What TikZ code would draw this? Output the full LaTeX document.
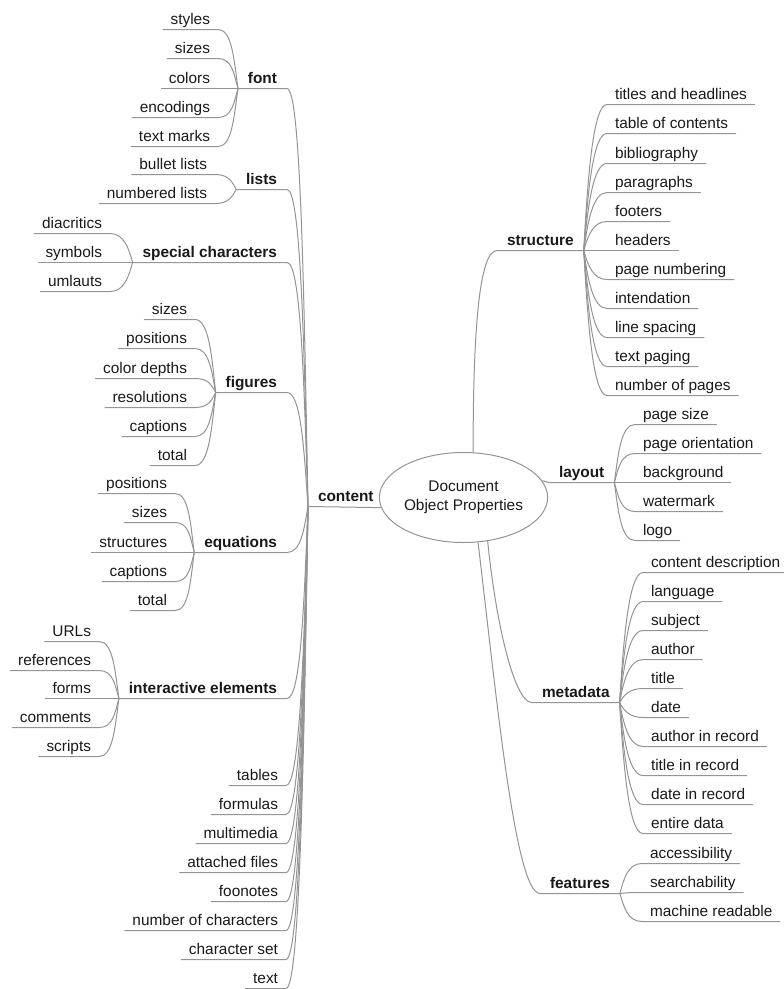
\documentclass[tikz,border=0pt]{standalone}
\usepackage{fontspec}
\setmainfont{Liberation Sans}
\usetikzlibrary{shapes.geometric,calc}

\begin{document}
\begin{tikzpicture}[x=1pt,y=-1pt,
  leaf/.style={font=\fontsize{15.4}{19}\selectfont, text=black!90, inner xsep=8pt, inner ysep=0pt,
               outer sep=0pt, text height=11pt, text depth=5pt},
  hub/.style={leaf, font=\fontsize{15.4}{19}\selectfont\bfseries, inner xsep=10pt},
  link/.style={draw=black!42, line width=1pt},
  lbranch/.style={to path={.. controls ($(\tikztostart)+(14,0)$)
                   and ($(\tikztotarget)!.5!(\tikztotarget|-\tikztostart)+(-4,0)$) .. (\tikztotarget)}},
  rbranch/.style={to path={.. controls ($(\tikztostart)!.5!(\tikztostart|-\tikztotarget)+(4,0)$)
                   and ($(\tikztotarget)+(-14,0)$) .. (\tikztotarget)}}]
\useasboundingbox (0,-0.5) rectangle (784,988.5);

\node[ellipse, draw=black!42, line width=1pt, minimum width=147pt, minimum height=90pt, inner sep=0pt,
      align=center, font=\fontsize{15.4}{19}\selectfont, text=black!90] (doc) at (463.5,497) {Document\\Object Properties};

% left side
\node[hub, anchor=south west] (content) at (308,506) {content};

\node[hub, anchor=south east] (font) at (287,88) {font};
\node[leaf, anchor=south east] (styles) at (218,29) {styles};
\node[leaf, anchor=south east] (fontsizes) at (218,58) {sizes};
\node[leaf, anchor=south east] (colors) at (218,88) {colors};
\node[leaf, anchor=south east] (encodings) at (218,117) {encodings};
\node[leaf, anchor=south east] (textmarks) at (218,146) {text marks};

\node[hub, anchor=south east] (lists) at (287,189) {lists};
\node[leaf, anchor=south east] (bullet) at (215,174) {bullet lists};
\node[leaf, anchor=south east] (numbered) at (215,203) {numbered lists};

\node[hub, anchor=south east] (special) at (287,262) {special characters};
\node[leaf, anchor=south east] (diacritics) at (110,233) {diacritics};
\node[leaf, anchor=south east] (symbols) at (110,262) {symbols};
\node[leaf, anchor=south east] (umlauts) at (110,291) {umlauts};

\node[hub, anchor=south east] (figures) at (287,392) {figures};
\node[leaf, anchor=south east] (figsizes) at (195,319) {sizes};
\node[leaf, anchor=south east] (figpositions) at (195,348) {positions};
\node[leaf, anchor=south east] (depths) at (195,378) {color depths};
\node[leaf, anchor=south east] (resolutions) at (195,407) {resolutions};
\node[leaf, anchor=south east] (figcaptions) at (195,436) {captions};
\node[leaf, anchor=south east] (figtotal) at (195,465) {total};

\node[hub, anchor=south east] (equations) at (287,552) {equations};
\node[leaf, anchor=south east] (eqpositions) at (175,493) {positions};
\node[leaf, anchor=south east] (eqsizes) at (175,522) {sizes};
\node[leaf, anchor=south east] (structures) at (175,552) {structures};
\node[leaf, anchor=south east] (eqcaptions) at (175,581) {captions};
\node[leaf, anchor=south east] (eqtotal) at (175,610) {total};

\node[hub, anchor=south east] (interactive) at (287,698) {interactive elements};
\node[leaf, anchor=south east] (urls) at (99,641) {URLs};
\node[leaf, anchor=south east] (references) at (99,670) {references};
\node[leaf, anchor=south east] (forms) at (99,698) {forms};
\node[leaf, anchor=south east] (comments) at (99,727) {comments};
\node[leaf, anchor=south east] (scripts) at (99,756) {scripts};

\node[leaf, anchor=south east] (tables) at (286,785) {tables};
\node[leaf, anchor=south east] (formulas) at (286,814) {formulas};
\node[leaf, anchor=south east] (multimedia) at (286,843) {multimedia};
\node[leaf, anchor=south east] (attached) at (286,872) {attached files};
\node[leaf, anchor=south east] (foonotes) at (286,901) {foonotes};
\node[leaf, anchor=south east] (numchars) at (286,930) {number of characters};
\node[leaf, anchor=south east] (charset) at (286,959) {character set};
\node[leaf, anchor=south east] (text) at (286,988) {text};

% right side
\node[hub, anchor=south west] (structure) at (497,250) {structure};
\node[leaf, anchor=south west] (titles) at (607,104) {titles and headlines};
\node[leaf, anchor=south west] (toc) at (607,133) {table of contents};
\node[leaf, anchor=south west] (biblio) at (607,163) {bibliography};
\node[leaf, anchor=south west] (paragraphs) at (607,192) {paragraphs};
\node[leaf, anchor=south west] (footers) at (607,221) {footers};
\node[leaf, anchor=south west] (headers) at (607,250) {headers};
\node[leaf, anchor=south west] (numbering) at (607,279) {page numbering};
\node[leaf, anchor=south west] (intendation) at (607,308) {intendation};
\node[leaf, anchor=south west] (spacing) at (607,337) {line spacing};
\node[leaf, anchor=south west] (paging) at (607,366) {text paging};
\node[leaf, anchor=south west] (numpages) at (607,395) {number of pages};

\node[hub, anchor=south west] (layout) at (549,482) {layout};
\node[leaf, anchor=south west] (pagesize) at (635,424) {page size};
\node[leaf, anchor=south west] (orientation) at (635,453) {page orientation};
\node[leaf, anchor=south west] (background) at (635,482) {background};
\node[leaf, anchor=south west] (watermark) at (635,511) {watermark};
\node[leaf, anchor=south west] (logo) at (635,540) {logo};

\node[hub, anchor=south west] (metadata) at (532,702) {metadata};
\node[leaf, anchor=south west] (description) at (643,572) {content description};
\node[leaf, anchor=south west] (language) at (643,601) {language};
\node[leaf, anchor=south west] (subject) at (643,630) {subject};
\node[leaf, anchor=south west] (author) at (643,659) {author};
\node[leaf, anchor=south west] (title) at (643,688) {title};
\node[leaf, anchor=south west] (date) at (643,717) {date};
\node[leaf, anchor=south west] (authorrec) at (643,746) {author in record};
\node[leaf, anchor=south west] (titlerec) at (643,775) {title in record};
\node[leaf, anchor=south west] (daterec) at (643,804) {date in record};
\node[leaf, anchor=south west] (entire) at (643,833) {entire data};

\node[hub, anchor=south west] (features) at (540,893) {features};
\node[leaf, anchor=south west] (accessibility) at (642,863) {accessibility};
\node[leaf, anchor=south west] (searchability) at (642,892) {searchability};
\node[leaf, anchor=south west] (machine) at (642,921) {machine readable};

% links, left
\draw[link] (content.south west) -- (doc.187);
\draw[link] (font.south west) -- (font.south east) to[lbranch] (content.south west);
\draw[link] (styles.south west) -- (styles.south east) to[lbranch] (font.south west);
\draw[link] (fontsizes.south west) -- (fontsizes.south east) to[lbranch] (font.south west);
\draw[link] (colors.south west) -- (colors.south east) to[lbranch] (font.south west);
\draw[link] (encodings.south west) -- (encodings.south east) to[lbranch] (font.south west);
\draw[link] (textmarks.south west) -- (textmarks.south east) to[lbranch] (font.south west);

\draw[link] (lists.south west) -- (lists.south east) to[lbranch] (content.south west);
\draw[link] (bullet.south west) -- (bullet.south east) to[lbranch] (lists.south west);
\draw[link] (numbered.south west) -- (numbered.south east) to[lbranch] (lists.south west);

\draw[link] (special.south west) -- (special.south east) to[lbranch] (content.south west);
\draw[link] (diacritics.south west) -- (diacritics.south east) to[lbranch] (special.south west);
\draw[link] (symbols.south west) -- (symbols.south east) to[lbranch] (special.south west);
\draw[link] (umlauts.south west) -- (umlauts.south east) to[lbranch] (special.south west);

\draw[link] (figures.south west) -- (figures.south east) to[lbranch] (content.south west);
\draw[link] (figsizes.south west) -- (figsizes.south east) to[lbranch] (figures.south west);
\draw[link] (figpositions.south west) -- (figpositions.south east) to[lbranch] (figures.south west);
\draw[link] (depths.south west) -- (depths.south east) to[lbranch] (figures.south west);
\draw[link] (resolutions.south west) -- (resolutions.south east) to[lbranch] (figures.south west);
\draw[link] (figcaptions.south west) -- (figcaptions.south east) to[lbranch] (figures.south west);
\draw[link] (figtotal.south west) -- (figtotal.south east) to[lbranch] (figures.south west);

\draw[link] (equations.south west) -- (equations.south east) to[lbranch] (content.south west);
\draw[link] (eqpositions.south west) -- (eqpositions.south east) to[lbranch] (equations.south west);
\draw[link] (eqsizes.south west) -- (eqsizes.south east) to[lbranch] (equations.south west);
\draw[link] (structures.south west) -- (structures.south east) to[lbranch] (equations.south west);
\draw[link] (eqcaptions.south west) -- (eqcaptions.south east) to[lbranch] (equations.south west);
\draw[link] (eqtotal.south west) -- (eqtotal.south east) to[lbranch] (equations.south west);

\draw[link] (interactive.south west) -- (interactive.south east) to[lbranch] (content.south west);
\draw[link] (urls.south west) -- (urls.south east) to[lbranch] (interactive.south west);
\draw[link] (references.south west) -- (references.south east) to[lbranch] (interactive.south west);
\draw[link] (forms.south west) -- (forms.south east) to[lbranch] (interactive.south west);
\draw[link] (comments.south west) -- (comments.south east) to[lbranch] (interactive.south west);
\draw[link] (scripts.south west) -- (scripts.south east) to[lbranch] (interactive.south west);

\draw[link] (tables.south west) -- (tables.south east) to[lbranch] (content.south west);
\draw[link] (formulas.south west) -- (formulas.south east) to[lbranch] (content.south west);
\draw[link] (multimedia.south west) -- (multimedia.south east) to[lbranch] (content.south west);
\draw[link] (attached.south west) -- (attached.south east) to[lbranch] (content.south west);
\draw[link] (foonotes.south west) -- (foonotes.south east) to[lbranch] (content.south west);
\draw[link] (numchars.south west) -- (numchars.south east) to[lbranch] (content.south west);
\draw[link] (charset.south west) -- (charset.south east) to[lbranch] (content.south west);
\draw[link] (text.south west) -- (text.south east) to[lbranch] (content.south west);

% links, right
\draw[link] (doc.78) .. controls +(0,-120) and +(-18,0) .. (structure.south west) -- (structure.south east);
\draw[link] (structure.south east) to[rbranch] (titles.south west) -- (titles.south east);
\draw[link] (structure.south east) to[rbranch] (toc.south west) -- (toc.south east);
\draw[link] (structure.south east) to[rbranch] (biblio.south west) -- (biblio.south east);
\draw[link] (structure.south east) to[rbranch] (paragraphs.south west) -- (paragraphs.south east);
\draw[link] (structure.south east) to[rbranch] (footers.south west) -- (footers.south east);
\draw[link] (structure.south east) to[rbranch] (headers.south west) -- (headers.south east);
\draw[link] (structure.south east) to[rbranch] (numbering.south west) -- (numbering.south east);
\draw[link] (structure.south east) to[rbranch] (intendation.south west) -- (intendation.south east);
\draw[link] (structure.south east) to[rbranch] (spacing.south west) -- (spacing.south east);
\draw[link] (structure.south east) to[rbranch] (paging.south west) -- (paging.south east);
\draw[link] (structure.south east) to[rbranch] (numpages.south west) -- (numpages.south east);

\draw[link] (doc.12) -- (layout.south west) -- (layout.south east);
\draw[link] (layout.south east) to[rbranch] (pagesize.south west) -- (pagesize.south east);
\draw[link] (layout.south east) to[rbranch] (orientation.south west) -- (orientation.south east);
\draw[link] (layout.south east) to[rbranch] (background.south west) -- (background.south east);
\draw[link] (layout.south east) to[rbranch] (watermark.south west) -- (watermark.south east);
\draw[link] (layout.south east) to[rbranch] (logo.south west) -- (logo.south east);

\draw[link] (doc.-61) .. controls +(8,80) and +(-18,0) .. (metadata.south west) -- (metadata.south east);
\draw[link] (metadata.south east) to[rbranch] (description.south west) -- (description.south east);
\draw[link] (metadata.south east) to[rbranch] (language.south west) -- (language.south east);
\draw[link] (metadata.south east) to[rbranch] (subject.south west) -- (subject.south east);
\draw[link] (metadata.south east) to[rbranch] (author.south west) -- (author.south east);
\draw[link] (metadata.south east) to[rbranch] (title.south west) -- (title.south east);
\draw[link] (metadata.south east) to[rbranch] (date.south west) -- (date.south east);
\draw[link] (metadata.south east) to[rbranch] (authorrec.south west) -- (authorrec.south east);
\draw[link] (metadata.south east) to[rbranch] (titlerec.south west) -- (titlerec.south east);
\draw[link] (metadata.south east) to[rbranch] (daterec.south west) -- (daterec.south east);
\draw[link] (metadata.south east) to[rbranch] (entire.south west) -- (entire.south east);

\draw[link] (doc.-72) .. controls +(18,150) and +(-25,0) .. (features.south west) -- (features.south east);
\draw[link] (features.south east) to[rbranch] (accessibility.south west) -- (accessibility.south east);
\draw[link] (features.south east) to[rbranch] (searchability.south west) -- (searchability.south east);
\draw[link] (features.south east) to[rbranch] (machine.south west) -- (machine.south east);
\end{tikzpicture}
\end{document}
